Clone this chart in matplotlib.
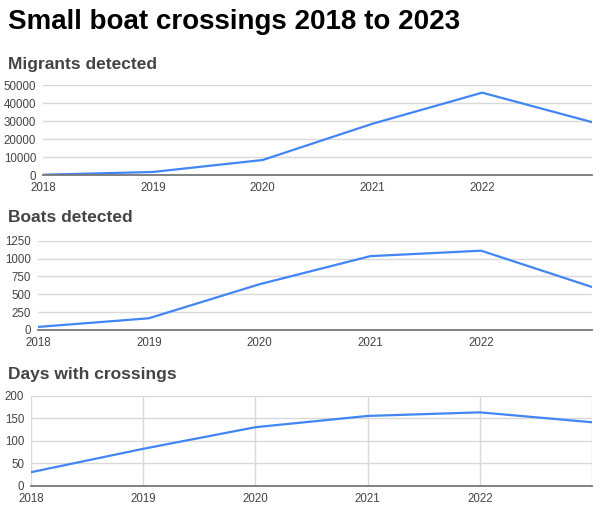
import matplotlib
matplotlib.use("Agg")
import matplotlib.pyplot as plt

plt.rcParams['font.family'] = ['Liberation Sans', 'DejaVu Sans']

years = [2018, 2019, 2020, 2021, 2022, 2023]
year_labels = ["2018", "2019", "2020", "2021", "2022"]
migrants = [300, 1843, 8466, 28526, 45755, 29437]
boats = [43, 164, 641, 1034, 1110, 602]
days = [30, 82, 130, 155, 163, 141]

migrant_ticks = [0, 10000, 20000, 30000, 40000, 50000]
boat_ticks = [0, 250, 500, 750, 1000, 1250]
day_ticks = [0, 50, 100, 150, 200]

W, H = 600, 509
fig = plt.figure(figsize=(W / 100, H / 100), dpi=100)

BLUE = "#4285F4"
GRID = "#d9d9d9"
TXT = "#444444"

fig.text(8 / W, 1 - 22 / H, "Small boat crossings 2018 to 2023", fontsize=20,
         fontweight="bold", color="#000000", va="center", ha="left")

panels = [
    ("Migrants detected", migrants, migrant_ticks, (43, 592, 85, 175.3), 64, False),
    ("Boats detected", boats, boat_ticks, (38, 592, 240.7, 330), 218, False),
    ("Days with crossings", days, day_ticks, (31, 592, 395.7, 485.7), 374, True),
]

for title, vals, ticks, (l, r, t, b), ty, vgrid in panels:
    ax = fig.add_axes([l / W, 1 - b / H, (r - l) / W, (b - t) / H])
    ax.plot(years, vals, color=BLUE, lw=1.6, solid_joinstyle="round")
    ax.set_xlim(2018, 2023)
    ax.set_ylim(ticks[0], ticks[-1])
    ax.set_yticks(ticks)
    ax.set_yticklabels([str(v) for v in ticks])
    ax.set_xticks(years[:-1])
    ax.set_xticklabels(year_labels)
    ax.tick_params(length=0, labelsize=8.3, colors=TXT, pad=5)
    ax.tick_params(axis="y", pad=5)
    ax.grid(axis="y", color=GRID, lw=1)
    if vgrid:
        ax.set_xticks(years, minor=True)
        ax.grid(axis="x", which="both", color=GRID, lw=1)
        ax.tick_params(which="minor", length=0)
    for s in ["top", "right", "left"]:
        ax.spines[s].set_visible(False)
    ax.spines["bottom"].set_color("#777777")
    ax.spines["bottom"].set_linewidth(1.3)
    ax.set_axisbelow(True)
    fig.text(8 / W, 1 - ty / H, title, fontsize=12.5, fontweight="bold",
             color=TXT, va="center", ha="left")

fig.savefig("out.png", dpi=100, facecolor="white")
